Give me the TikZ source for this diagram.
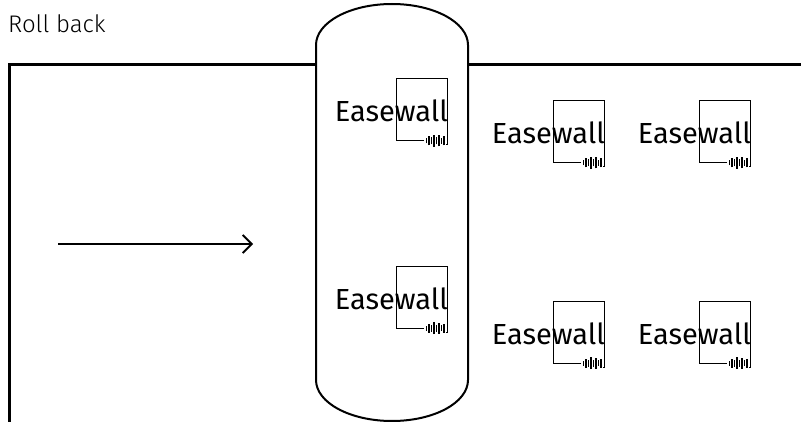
\documentclass[tikz,border=0pt]{standalone}
\usepackage{fontspec}
\setmainfont{Fira Sans}
\newfontfamily\lightfont{Fira Sans Light}
\usetikzlibrary{arrows.meta}
\pgfdeclarelayer{edgelayer}
\pgfdeclarelayer{nodelayer}
\pgfsetlayers{edgelayer,nodelayer,main}
\tikzstyle{none}=[inner sep=0pt]
\tikzstyle{heading}=[inner sep=0pt, anchor=base west, font=\lightfont\fontsize{24}{24}\selectfont]
\tikzstyle{brand}=[inner sep=0pt, anchor=base east, font=\fontsize{29}{29}\selectfont]
\tikzstyle{wall}=[line width=3pt]
\tikzstyle{drum}=[line width=2pt]
\tikzstyle{push}=[line width=1.8pt, -{Straight Barb[length=9pt,width=18pt]}]
\tikzstyle{tag}=[line width=1pt]
\tikzset{logo/.pic={
	\node [style=brand] (-txt) at (52, 19) {Easewall};
	\draw [style=tag] (28, 0) -- (0, 0) -- (0, 62) -- (51.5, 62) -- (51.5, -4) -- (50, -4);
	\foreach \dx/\h in {2.5/5, 5/9, 7.5/7, 10/12, 12.5/7, 15/11, 17.5/6, 20/9}
		\draw [line width=1.2pt] (28+\dx, -\h/2) -- ++(0, \h);
}}

\begin{document}
\begin{tikzpicture}[x=1pt, y=1pt]
	\useasboundingbox (0, 0) rectangle (801, 421);
	\begin{pgfonlayer}{nodelayer}
		\node [style=none] (0) at (9, -2) {};
		\node [style=none] (1) at (9, 356) {};
		\node [style=none] (2) at (316, 356) {};
		\node [style=none] (3) at (468, 356) {};
		\node [style=none] (4) at (803, 356) {};
		\node [style=none] (5) at (316, 376) {};
		\node [style=none] (6) at (468, 376) {};
		\node [style=none] (7) at (468, 41) {};
		\node [style=none] (8) at (316, 41) {};
		\node [style=none] (9) at (58, 177) {};
		\node [style=none] (10) at (253, 177) {};
		\node [style=heading] (title) at (8, 388) {Roll back};
		\pic (11) at (396, 280) {logo};
		\pic (12) at (396, 93) {logo};
		\pic (13) at (553, 258) {logo};
		\pic (14) at (699, 258) {logo};
		\pic (15) at (553, 58) {logo};
		\pic (16) at (699, 58) {logo};
	\end{pgfonlayer}
	\begin{pgfonlayer}{edgelayer}
		\draw [style=wall] (0.center) -- (1.center) -- (2.center);
		\draw [style=wall] (3.center) -- (4.center);
		\draw [style=drum] (5.center) arc (180:0:76pt and 41pt) -- (7.center) arc (0:-180:76pt and 41pt) -- cycle;
		\draw [style=push] (9.center) to (10.center);
	\end{pgfonlayer}
\end{tikzpicture}
\end{document}
